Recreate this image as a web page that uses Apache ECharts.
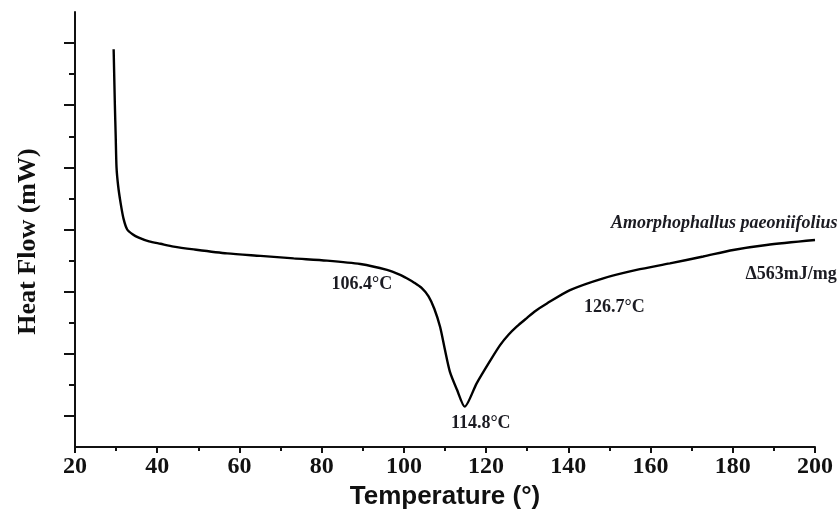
<!DOCTYPE html>
<html>
<head>
<meta charset="utf-8">
<title>DSC curve</title>
<script src="https://cdn.jsdelivr.net/npm/echarts@6/dist/echarts.min.js"></script>
<style>
  html, body { margin: 0; padding: 0; background: #fff; }
  #chart { width: 840px; height: 515px; }
</style>
</head>
<body>
<div id="chart"></div>
<script>
// temperature (°C)
const temperature = [
  29.4, 29.7, 29.9, 30.1, 30.5, 31.1, 31.8, 32.7, 34.0, 35.5,
  38.0, 40.8, 44.0, 48.9, 57.0, 65.1, 73.2, 81.3, 89.4, 95.9,
  99.1, 100.7, 102.5, 104.3, 106.0, 107.4, 108.8, 110.0, 111.2, 112.9,
  114.8, 117.7, 121.0, 123.4, 125.5, 127.5, 129.9, 132.0, 134.8, 140.4,
  148.5, 156.6, 164.7, 172.8, 180.1, 188.2, 200.0,
];
// heat flow, arbitrary units (the axis has no numbers)
const heatFlow = [
  12.8, 11.0, 10.0, 9.0, 8.4, 7.85, 7.35, 7.0, 6.85, 6.74,
  6.62, 6.54, 6.45, 6.36, 6.23, 6.15, 6.07, 6.0, 5.89, 5.70,
  5.54, 5.43, 5.29, 5.12, 4.85, 4.45, 3.87, 3.12, 2.42, 1.85,
  1.30, 2.05, 2.78, 3.28, 3.62, 3.88, 4.15, 4.38, 4.62, 5.05,
  5.43, 5.70, 5.91, 6.13, 6.34, 6.50, 6.66,
];
const xTicks = [20, 40, 60, 80, 100, 120, 140, 160, 180, 200];
const yMajorTicks = [1, 3, 5, 7, 9, 11, 13];
const yMinorTicks = [2, 4, 6, 8, 10, 12];

// text notes, anchored in data space
const noteTexts = ['106.4°C', '114.8°C', '126.7°C', '\u0394563mJ/mg', 'Amorphophallus paeoniifolius'];
const noteTemps = [89.8, 118.7, 151.2, 205.3, 205.5];
const noteFlows = [5.25, 0.77, 4.51, 5.57, 7.2];

const chart = echarts.init(document.getElementById('chart'));

const serif = '"Liberation Serif", "Times New Roman", serif';

const option = {
  animation: false,
  backgroundColor: '#fff',
  grid: { left: 75, right: 25, top: 12, bottom: 68 },
  xAxis: {
    type: 'value',
    min: 20,
    max: 200,
    interval: 20,
    name: 'Temperature (°)',
    nameLocation: 'middle',
    nameGap: 36,
    nameTextStyle: {
      fontFamily: '"Liberation Sans", Arial, sans-serif',
      fontWeight: 'bold',
      fontSize: 26,
      color: '#111',
    },
    axisLine: { lineStyle: { color: '#111', width: 2 } },
    axisTick: { length: 6, lineStyle: { color: '#111', width: 2 } },
    minorTick: { show: true, splitNumber: 2, length: 4, lineStyle: { color: '#111', width: 2 } },
    axisLabel: {
      margin: 8,
      fontFamily: serif,
      fontWeight: 'bold',
      fontSize: 24,
      color: '#111',
      formatter: (v) => (xTicks.includes(v) ? String(v) : ''),
    },
    splitLine: { show: false },
  },
  yAxis: [
    {
      type: 'value',
      min: 0,
      max: 14,
      name: 'Heat Flow (mW)',
      nameLocation: 'middle',
      nameGap: 34,
      nameTextStyle: {
        fontFamily: serif,
        fontWeight: 'bold',
        fontSize: 26,
        color: '#111',
        padding: [0, 24, 0, 0],
      },
      axisLine: { show: true, lineStyle: { color: '#111', width: 2 } },
      axisTick: { show: true, customValues: yMajorTicks, length: 11, lineStyle: { color: '#111', width: 2 } },
      axisLabel: { show: false },
      splitLine: { show: false },
    },
    {
      // second axis only carries the short ticks
      type: 'value',
      min: 0,
      max: 14,
      position: 'left',
      axisLine: { show: false },
      axisTick: { show: true, customValues: yMinorTicks, length: 6, lineStyle: { color: '#111', width: 2 } },
      axisLabel: { show: false },
      splitLine: { show: false },
    },
  ],
  series: [
    {
      type: 'line',
      data: temperature.map((t, i) => [t, heatFlow[i]]),
      showSymbol: false,
      smooth: 0.25,
      lineStyle: { color: '#000', width: 2.4 },
    },
  ],
};
chart.setOption(option);

// place the notes once the axes exist
const aligns = ['center', 'center', 'center', 'right', 'right'];
chart.setOption({
  graphic: noteTexts.map((txt, i) => {
    const p = chart.convertToPixel({ xAxisIndex: 0, yAxisIndex: 0 }, [noteTemps[i], noteFlows[i]]);
    return {
      type: 'text',
      x: p[0],
      y: p[1],
      style: {
        text: txt,
        font: (i === 4 ? 'italic bold 18px ' : 'bold 18px ') + serif,
        fill: '#1b1b22',
        textAlign: aligns[i],
        textVerticalAlign: 'middle',
      },
    };
  }),
});
</script>
</body>
</html>
